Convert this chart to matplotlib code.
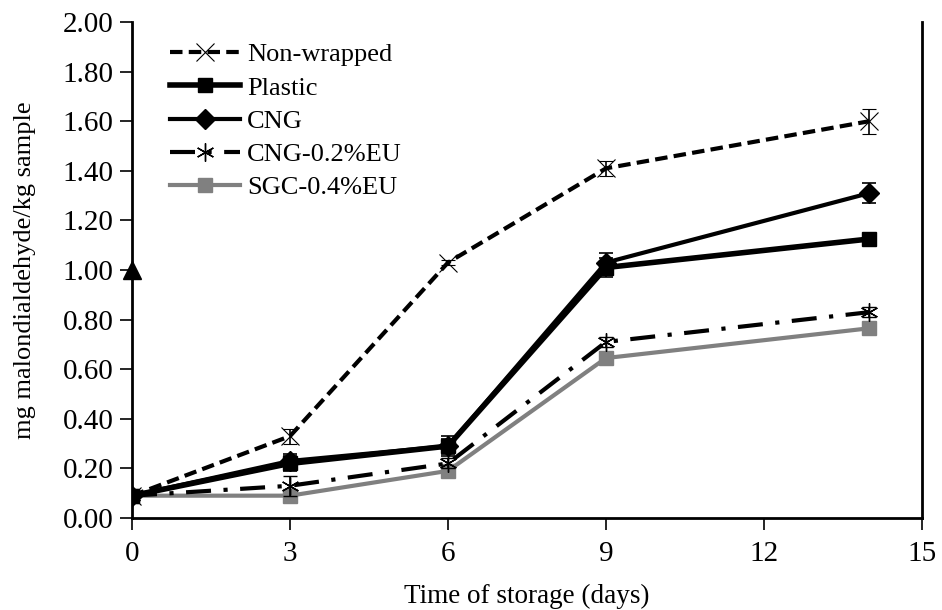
import matplotlib
matplotlib.use("Agg")
import matplotlib.pyplot as plt
from matplotlib.lines import Line2D

plt.rcParams['font.family'] = ['Liberation Serif', 'DejaVu Serif']

days = [0, 3, 6, 9, 14]
non_wrapped = [0.09, 0.33, 1.03, 1.41, 1.60]
non_wrapped_err = [0.01, 0.03, 0.01, 0.03, 0.05]
plastic = [0.09, 0.22, 0.29, 1.01, 1.125]
plastic_err = [0.01, 0.03, 0.04, 0.04, 0.02]
cng = [0.09, 0.23, 0.29, 1.03, 1.31]
cng_err = [0.01, 0.03, 0.03, 0.04, 0.04]
cng02 = [0.09, 0.13, 0.22, 0.71, 0.83]
cng02_err = [0.01, 0.04, 0.02, 0.02, 0.02]
sgc04 = [0.09, 0.09, 0.19, 0.645, 0.765]
sgc04_err = [0.01, 0.01, 0.01, 0.01, 0.01]
stray_point = (0, 1.0)

fig = plt.figure(figsize=(9.42, 6.10), dpi=100)
ax = fig.add_axes([132/942, 92/610, 790/942, 496/610])

eb = dict(capsize=5, elinewidth=1.2, capthick=1.2, ecolor='black')

ax.errorbar(days, sgc04, yerr=sgc04_err, color='#808080', lw=3, marker='s', ms=10,
            label='SGC-0.4%EU', zorder=3, **eb)
ax.errorbar(days, cng02, yerr=cng02_err, color='black', lw=3, ls=(0, (6, 3, 1, 3)),
            marker=(6, 2, 0), ms=13, mew=1.0, label='CNG-0.2%EU', zorder=4, **eb)
ax.errorbar(days, cng, yerr=cng_err, color='black', lw=3, marker='D', ms=10,
            label='CNG', zorder=5, **eb)
ax.errorbar(days, plastic, yerr=plastic_err, color='black', lw=4, marker='s', ms=10,
            label='Plastic', zorder=5, **eb)
ax.errorbar(days, non_wrapped, yerr=non_wrapped_err, color='black', lw=3, ls=(0, (3, 1.5)),
            marker='x', ms=13, mew=0.8, label='Non-wrapped', zorder=6, **eb)
ax.plot([stray_point[0]], [stray_point[1]], marker='^', color='black', ms=13,
        clip_on=False, zorder=7)

ax.set_xlim(0, 15)
ax.set_ylim(0, 2.0)
ax.set_xticks([0, 3, 6, 9, 12, 15])
ax.set_yticks([i * 0.2 for i in range(11)])
ax.set_yticklabels([f"{i*0.2:.2f}" for i in range(11)])
ax.tick_params(axis='both', direction='out', labelsize=21, length=8.5, width=1.2, colors='black')
ax.tick_params(axis='x', pad=8)
ax.tick_params(axis='y', pad=5)
for s in ['left', 'bottom', 'right']:
    ax.spines[s].set_linewidth(2)
ax.spines['top'].set_visible(False)

ax.set_xlabel('Time of storage (days)', fontsize=19.5, labelpad=12)
ax.set_ylabel('mg malondialdehyde/kg sample', fontsize=19, labelpad=19)

handles = [
    Line2D([], [], color='black', lw=3, ls=(0, (3, 1.5)), marker='x', ms=13, mew=0.8),
    Line2D([], [], color='black', lw=4, marker='s', ms=10),
    Line2D([], [], color='black', lw=3, marker='D', ms=10),
    Line2D([], [], color='black', lw=3, ls=(0, (6, 3, 1, 3)), marker=(6, 2, 0), ms=13, mew=1.0),
    Line2D([], [], color='#808080', lw=3, marker='s', ms=10),
]
labels = ['Non-wrapped', 'Plastic', 'CNG', 'CNG-0.2%EU', 'SGC-0.4%EU']
ax.legend(handles, labels, loc='upper left', bbox_to_anchor=(0.025, 0.995), frameon=False,
          fontsize=19, handlelength=2.65, handletextpad=0.27, labelspacing=0.37,
          borderpad=0.2)

fig.savefig('out.png', dpi=100)
